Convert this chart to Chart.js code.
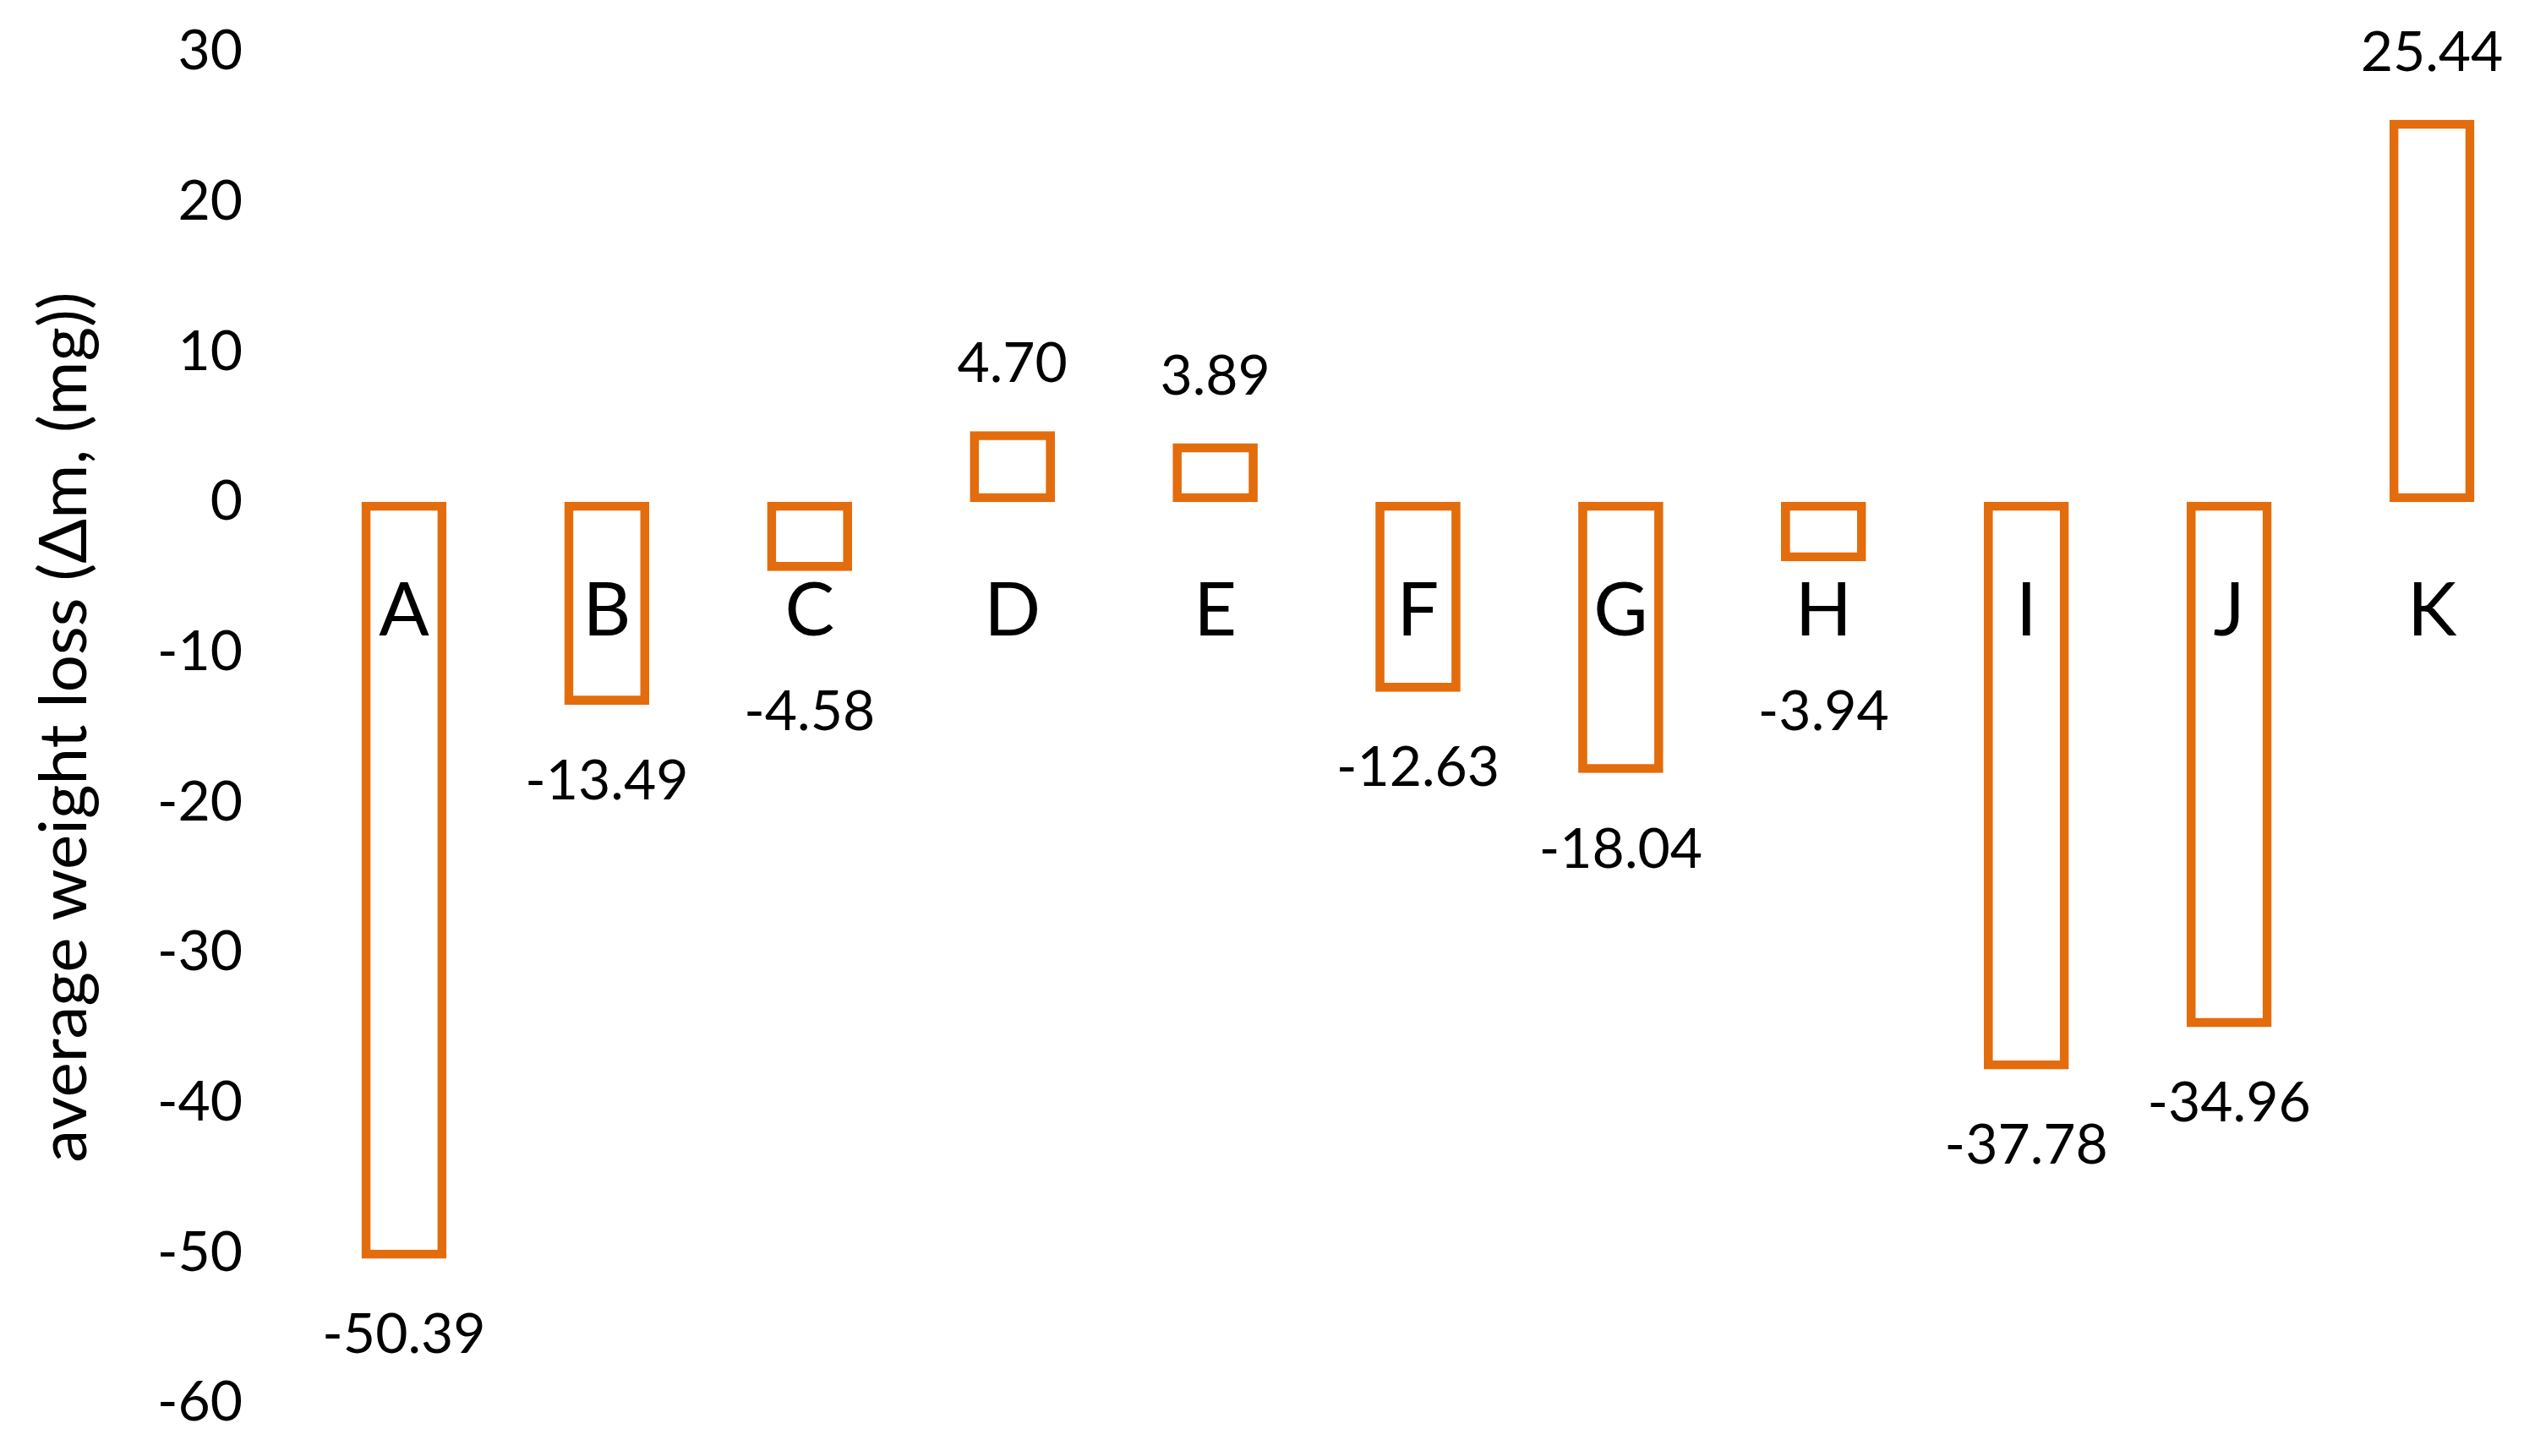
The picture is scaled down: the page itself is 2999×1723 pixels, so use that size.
<!DOCTYPE html>
<html>
<head>
<meta charset="utf-8">
<script src="https://cdn.jsdelivr.net/npm/chart.js@4.4.1/dist/chart.umd.min.js"></script>
<style>
  html, body { margin: 0; padding: 0; background: #ffffff; }
  #wrap { width: 2999px; height: 1723px; }
  canvas { display: block; }
</style>
</head>
<body>
<div id="wrap"><canvas id="c" width="2999" height="1723"></canvas></div>
<script>
// ---- data ----
const categories = ['A', 'B', 'C', 'D', 'E', 'F', 'G', 'H', 'I', 'J', 'K'];
const weightLoss = [-50.39, -13.49, -4.58, 4.70, 3.89, -12.63, -18.04, -3.94, -37.78, -34.96, 25.44];
const yMin = -60;
const yMax = 30;
const yStep = 10;
const yTitle = 'average weight loss (\u0394m, (mg))';

// ---- styles ----
const FONT = 'Lato';
const BAR_COLOR = '#E36C0D';

const valueLabelPlugin = {
  id: 'valueLabels',
  afterDatasetsDraw(chart) {
    const ctx = chart.ctx;
    const meta = chart.getDatasetMeta(0);
    const y0 = chart.scales.y.getPixelForValue(0);
    ctx.save();
    ctx.font = '66px ' + FONT;
    ctx.fillStyle = '#000000';
    ctx.textAlign = 'center';
    ctx.textBaseline = 'alphabetic';
    meta.data.forEach((bar, i) => {
      const v = weightLoss[i];
      let ty;
      if (v >= 0) {
        ty = bar.y - 58;
      } else {
        // keep clear of the category labels that sit just under the zero line
        ty = Math.max(bar.y + 112, y0 + 270);
      }
      ctx.fillText(v.toFixed(2), bar.x, ty);
    });
    ctx.restore();
  }
};

new Chart(document.getElementById('c'), {
  type: 'bar',
  data: {
    labels: categories,
    datasets: [{
      data: weightLoss,
      backgroundColor: 'rgba(255,255,255,0)',
      borderColor: BAR_COLOR,
      borderWidth: 10,
      borderSkipped: false,
      barThickness: 100
    }]
  },
  options: {
    responsive: false,
    animation: false,
    devicePixelRatio: 1,
    layout: { padding: { top: 61, bottom: 63, left: 0, right: 2 } },
    plugins: {
      legend: { display: false },
      tooltip: { enabled: false }
    },
    scales: {
      x: {
        position: { y: 0 },
        offset: true,
        grid: { display: false, drawTicks: false },
        border: { display: false },
        afterFit(scale) { scale.paddingLeft = 0; scale.paddingRight = 0; scale.paddingTop = 0; scale.paddingBottom = 0; },
        ticks: {
          color: '#000000',
          padding: 77,
          maxRotation: 0,
          autoSkip: false,
          font: { family: FONT, size: 88 }
        }
      },
      y: {
        min: yMin,
        max: yMax,
        grid: { display: false, drawTicks: false },
        border: { display: false },
        afterFit(scale) { scale.width = 358; scale.paddingTop = 0; scale.paddingBottom = 0; },
        ticks: {
          stepSize: yStep,
          color: '#000000',
          padding: 71,
          font: { family: FONT, size: 66 }
        },
        title: {
          display: true,
          text: yTitle,
          color: '#000000',
          padding: { top: 30, bottom: 0 },
          font: { family: FONT, size: 78 }
        }
      }
    }
  },
  plugins: [valueLabelPlugin]
});
</script>
</body>
</html>
